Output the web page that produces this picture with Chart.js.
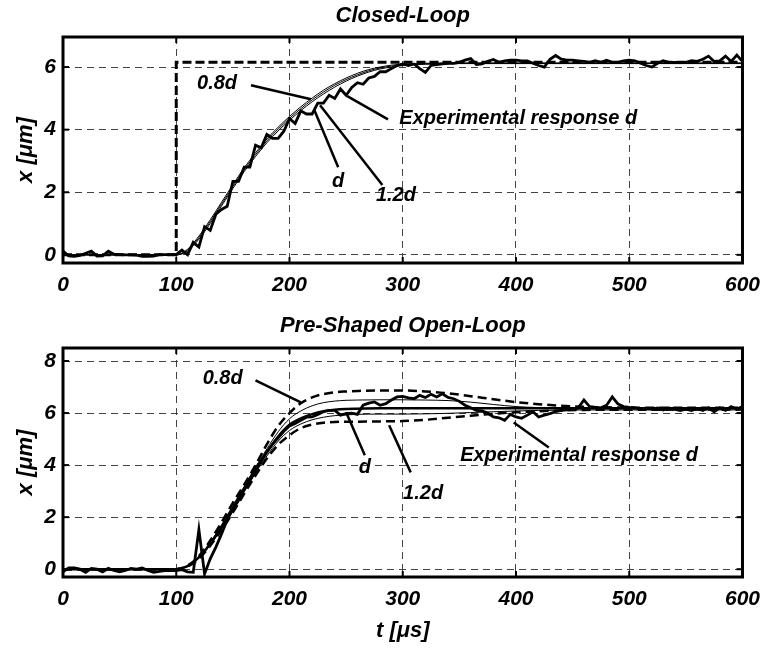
<!DOCTYPE html>
<html>
<head>
<meta charset="utf-8">
<script src="https://cdn.jsdelivr.net/npm/chart.js@4"></script>
<style>
  html, body { margin: 0; padding: 0; background: #fff; }
  #wrap { position: relative; width: 772px; height: 648px; }
  canvas { position: absolute; left: 0; }
  #closed { top: 0; }
  #open { top: 300px; }
</style>
</head>
<body>
<div id="wrap">
  <canvas id="closed" width="772" height="300"></canvas>
  <canvas id="open" width="772" height="348"></canvas>
</div>
<script>
// ---- tick labels ----
const timeTicks = [0, 100, 200, 300, 400, 500, 600];
const closedTicks = [0, 2, 4, 6];
const openTicks = [0, 2, 4, 6, 8];

// ---- measured time base (us), 5 us sampling ----
const expTime = [0,5,10,15,20,25,30,35,40,45,50,55,60,65,70,75,80,85,90,95,100,
  105,110,115,120,125,130,135,140,145,150,155,160,165,170,175,180,185,190,195,200,
  205,210,215,220,225,230,235,240,245,250,255,260,265,270,275,280,285,290,295,300,
  305,310,315,320,325,330,335,340,345,350,355,360,365,370,375,380,385,390,395,400,
  405,410,415,420,425,430,435,440,445,450,455,460,465,470,475,480,485,490,495,500,
  505,510,515,520,525,530,535,540,545,550,555,560,565,570,575,580,585,590,595,600];

// ---- closed-loop: experimental response (um) ----
const closedExp = [0.12,-0.03,-0.05,-0.02,0.05,0.12,-0.04,-0.03,0.12,0.02,0.01,0,0,-0.01,-0.05,-0.05,-0.04,0.01,0.01,0.01,0.01,
  0.15,0.0,0.4,0.25,0.9,0.78,1.3,1.45,1.55,2.35,2.35,2.8,2.8,3.5,3.42,3.85,3.72,3.72,3.95,4.35,
  4.2,4.6,4.5,4.5,4.85,4.85,5.1,5.0,5.3,5.1,5.35,5.5,5.45,5.65,5.7,5.85,5.85,5.95,6.05,6.1,
  6.05,6.1,5.95,5.83,6.05,6.08,6.1,6.12,6.12,6.15,6.22,6.27,6.08,6.1,6.18,6.24,6.15,6.2,6.22,6.22,
  6.2,6.2,6.12,6.05,6.0,6.25,6.37,6.25,6.22,6.22,6.2,6.18,6.15,6.2,6.15,6.22,6.15,6.15,6.2,6.22,
  6.2,6.12,6.05,6.0,6.12,6.2,6.15,6.15,6.15,6.15,6.2,6.18,6.25,6.35,6.18,6.2,6.35,6.18,6.38,6.18];

// ---- closed-loop: commanded step ----
const stepTime = [0, 100, 100, 600];
const stepLevel = [0, 0, 6.15, 6.15];

// ---- closed-loop: simulated responses for 0.8d, d, 1.2d ----
const closedSimTime = [0,100,110,120,130,140,150,160,170,180,190,200,210,220,230,240,250,260,270,280,290,300,320,350,400,500,600];
const closed08 = [0,0,0.18,0.6,1.12,1.68,2.24,2.78,3.26,3.7,4.08,4.42,4.73,5.01,5.26,5.47,5.65,5.8,5.92,6.0,6.06,6.09,6.12,6.13,6.13,6.13,6.13];
const closedD  = [0,0,0.15,0.55,1.06,1.62,2.18,2.72,3.2,3.64,4.02,4.36,4.67,4.95,5.2,5.42,5.6,5.75,5.88,5.97,6.03,6.07,6.1,6.12,6.12,6.12,6.12];
const closed12 = [0,0,0.12,0.5,1.0,1.56,2.12,2.66,3.14,3.58,3.96,4.3,4.61,4.89,5.14,5.36,5.55,5.71,5.84,5.94,6.0,6.05,6.09,6.11,6.11,6.11,6.11];

// ---- pre-shaped open-loop: experimental response (um) ----
const openExp = [-0.1,0.05,0.05,0.0,-0.12,0.03,0.0,-0.1,0.03,-0.05,-0.1,-0.05,0.03,0.0,0.05,-0.05,-0.12,-0.08,-0.05,-0.05,-0.05,
  -0.02,-0.1,-0.12,1.52,-0.18,0.4,0.85,1.35,1.9,2.3,2.65,3.05,3.4,3.8,4.15,4.5,4.8,5.05,5.3,5.5,
  5.6,5.72,5.84,5.85,5.95,6.05,6.1,6.1,5.92,5.98,6.0,5.95,6.3,6.38,6.43,6.3,6.36,6.5,6.62,6.64,
  6.58,6.55,6.68,6.6,6.72,6.62,6.74,6.6,6.55,6.45,6.3,6.2,6.1,6.08,6.0,5.85,5.82,5.72,5.95,5.85,
  5.8,5.92,6.05,5.85,5.92,5.98,6.05,6.1,6.12,6.15,6.2,6.5,6.25,6.22,6.2,6.3,6.62,6.35,6.25,6.22,
  6.2,6.15,6.18,6.15,6.2,6.12,6.2,6.15,6.1,6.15,6.1,6.18,6.1,6.2,6.05,6.2,6.1,6.25,6.15,6.25];

// ---- pre-shaped open-loop: simulated responses for 0.8d .. 1.2d ----
const openSimTime = [0,100,110,120,130,140,150,160,170,180,190,200,210,220,230,240,250,260,280,300,320,340,360,380,400,420,440,460,480,500,600];
const open08 = [0,0,0.14,0.5,1.1,1.8,2.55,3.25,4.0,4.8,5.5,6.0,6.38,6.6,6.73,6.8,6.83,6.85,6.87,6.87,6.83,6.76,6.65,6.53,6.42,6.34,6.28,6.24,6.22,6.21,6.2];
const open09 = [0,0,0.13,0.48,1.03,1.7,2.45,3.18,3.92,4.62,5.28,5.78,6.08,6.28,6.4,6.46,6.49,6.5,6.51,6.51,6.5,6.48,6.42,6.33,6.25,6.21,6.2,6.19,6.19,6.19,6.19];
const openD  = [0,0,0.12,0.45,0.98,1.62,2.35,3.1,3.85,4.5,5.1,5.55,5.8,5.96,6.07,6.13,6.16,6.17,6.18,6.18,6.18,6.18,6.18,6.18,6.18,6.18,6.18,6.18,6.18,6.18,6.18];
const open11 = [0,0,0.11,0.42,0.93,1.55,2.25,2.98,3.7,4.35,4.92,5.33,5.58,5.74,5.84,5.9,5.93,5.95,5.96,5.96,5.97,5.99,6.02,6.05,6.08,6.1,6.11,6.12,6.12,6.12,6.12];
const open12 = [0,0,0.1,0.4,0.9,1.5,2.18,2.9,3.6,4.25,4.78,5.15,5.42,5.56,5.63,5.66,5.67,5.67,5.68,5.69,5.74,5.82,5.9,5.97,6.03,6.07,6.1,6.12,6.13,6.13,6.14];

// ---- callouts, in data units (t, x) ----
const closedNotes = [
  { text: '0.8d', at: [136, 5.48], align: 'center', from: [166, 5.42], to: [219, 4.97] },
  { text: 'd', at: [243, 2.36], align: 'center', from: [243, 2.8], to: [222, 4.62] },
  { text: '1.2d', at: [294, 1.91], align: 'center', from: [282, 2.23], to: [227, 4.78] },
  { text: 'Experimental response d', at: [297, 4.36], align: 'left', from: [251, 5.07], to: [287, 4.33] }
];
const openNotes = [
  { text: '0.8d', at: [141, 7.33], align: 'center', from: [170, 7.26], to: [210, 6.41] },
  { text: 'd', at: [266.5, 3.92], align: 'center', from: [250, 6.03], to: [266.5, 4.38] },
  { text: '1.2d', at: [318, 2.92], align: 'center', from: [288, 5.53], to: [307, 3.72] },
  { text: 'Experimental response d', at: [350.7, 4.38], align: 'left', from: [398, 5.64], to: [429, 4.68] }
];

const FAM = '"Liberation Sans", Arial, Helvetica, sans-serif';
const bi = (size) => ({ family: FAM, size: size, style: 'italic', weight: 'bold', lineHeight: 1 });

const pts = (ts, vs) => ts.map((t, i) => ({ x: t, y: vs[i] }));

function lineSet(ts, vs, width, dash, smooth) {
  return {
    data: pts(ts, vs),
    borderColor: '#000',
    borderWidth: width,
    borderDash: dash || [],
    pointRadius: 0,
    fill: false,
    tension: 0,
    cubicInterpolationMode: smooth ? 'monotone' : 'default'
  };
}

// box around the plot area with inward tick marks on all four sides
const framePlugin = {
  id: 'frame',
  afterDraw(chart) {
    const { ctx, chartArea: a, scales: { x, y } } = chart;
    ctx.save();
    ctx.strokeStyle = '#000';
    ctx.setLineDash([]);
    ctx.lineWidth = 2;
    const L = 6;
    const seg = (x1, y1, x2, y2) => { ctx.beginPath(); ctx.moveTo(x1, y1); ctx.lineTo(x2, y2); ctx.stroke(); };
    x.ticks.forEach(t => {
      const p = x.getPixelForValue(t.value);
      seg(p, a.bottom, p, a.bottom - L);
      seg(p, a.top, p, a.top + L);
    });
    y.ticks.forEach(t => {
      const p = y.getPixelForValue(t.value);
      seg(a.left, p, a.left + L, p);
      seg(a.right, p, a.right - L, p);
    });
    ctx.lineWidth = 3;
    ctx.strokeRect(a.left, a.top, a.right - a.left, a.bottom - a.top);
    ctx.restore();
  }
};

// text labels with leader lines
function notesPlugin(items) {
  return {
    id: 'notes',
    afterDatasetsDraw(chart) {
      const { ctx, scales: { x, y } } = chart;
      ctx.save();
      ctx.strokeStyle = '#000';
      ctx.fillStyle = '#000';
      ctx.lineWidth = 2.5;
      ctx.setLineDash([]);
      ctx.font = 'italic bold 20px ' + FAM;
      ctx.textBaseline = 'middle';
      items.forEach(n => {
        ctx.beginPath();
        ctx.moveTo(x.getPixelForValue(n.from[0]), y.getPixelForValue(n.from[1]));
        ctx.lineTo(x.getPixelForValue(n.to[0]), y.getPixelForValue(n.to[1]));
        ctx.stroke();
        ctx.textAlign = n.align;
        ctx.fillText(n.text, x.getPixelForValue(n.at[0]), y.getPixelForValue(n.at[1]));
      });
      ctx.restore();
    }
  };
}

function makeChart(id, cfg) {
  return new Chart(document.getElementById(id), {
    type: 'line',
    data: { datasets: cfg.datasets },
    options: {
      responsive: false,
      animation: false,
      devicePixelRatio: 1,
      layout: { padding: { left: 0, right: 24, top: 0, bottom: 0 } },
      plugins: {
        legend: { display: false },
        tooltip: { enabled: false },
        title: {
          display: true, text: cfg.title, fullSize: false, color: '#000',
          font: bi(22), padding: cfg.titlePad
        }
      },
      scales: {
        x: {
          type: 'linear', min: 0, max: 600,
          afterBuildTicks: s => { s.ticks = timeTicks.map(v => ({ value: v })); },
          afterFit: s => { s.height = cfg.xHeight; },
          grid: { color: '#444', lineWidth: 1, drawTicks: false },
          border: { display: false, dash: [7, 5] },
          ticks: { color: '#000', font: bi(21), padding: 12, maxRotation: 0, autoSkip: false },
          title: cfg.xTitle
        },
        y: {
          type: 'linear', min: cfg.yMin, max: cfg.yMax,
          afterBuildTicks: s => { s.ticks = cfg.yTicks.map(v => ({ value: v })); },
          afterFit: s => { s.width = 63; },
          grid: { color: '#444', lineWidth: 1, drawTicks: false },
          border: { display: false, dash: [7, 5] },
          ticks: { color: '#000', font: bi(21), padding: 7 },
          title: { display: true, text: 'x [\u03bcm]', color: '#000', font: bi(22), padding: { top: 15, bottom: 0 } }
        }
      }
    },
    plugins: [framePlugin, notesPlugin(cfg.notes)]
  });
}

makeChart('closed', {
  title: 'Closed-Loop',
  titlePad: { top: 5, bottom: 10 },
  xHeight: 37,
  xTitle: { display: false },
  yMin: -0.26, yMax: 6.96, yTicks: closedTicks,
  notes: closedNotes,
  datasets: [
    lineSet(expTime, closedExp, 2.8, null, false),
    lineSet(closedSimTime, closed08, 1, null, true),
    lineSet(closedSimTime, closedD, 1, null, true),
    lineSet(closedSimTime, closed12, 1, null, true),
    lineSet(stepTime, stepLevel, 3, [9, 4], false)
  ]
});

makeChart('open', {
  title: 'Pre-Shaped Open-Loop',
  titlePad: { top: 15, bottom: 11 },
  xHeight: 71,
  xTitle: { display: true, text: 't [\u03bcs]', color: '#000', font: bi(22), padding: { top: 0, bottom: 6 } },
  yMin: -0.3, yMax: 8.5, yTicks: openTicks,
  notes: openNotes,
  datasets: [
    lineSet(expTime, openExp, 2.8, null, false),
    lineSet(openSimTime, open08, 2.5, [9, 5], true),
    lineSet(openSimTime, open09, 1, null, true),
    lineSet(openSimTime, openD, 2.5, null, true),
    lineSet(openSimTime, open11, 1, null, true),
    lineSet(openSimTime, open12, 2.5, [9, 5], true)
  ]
});
</script>
</body>
</html>
